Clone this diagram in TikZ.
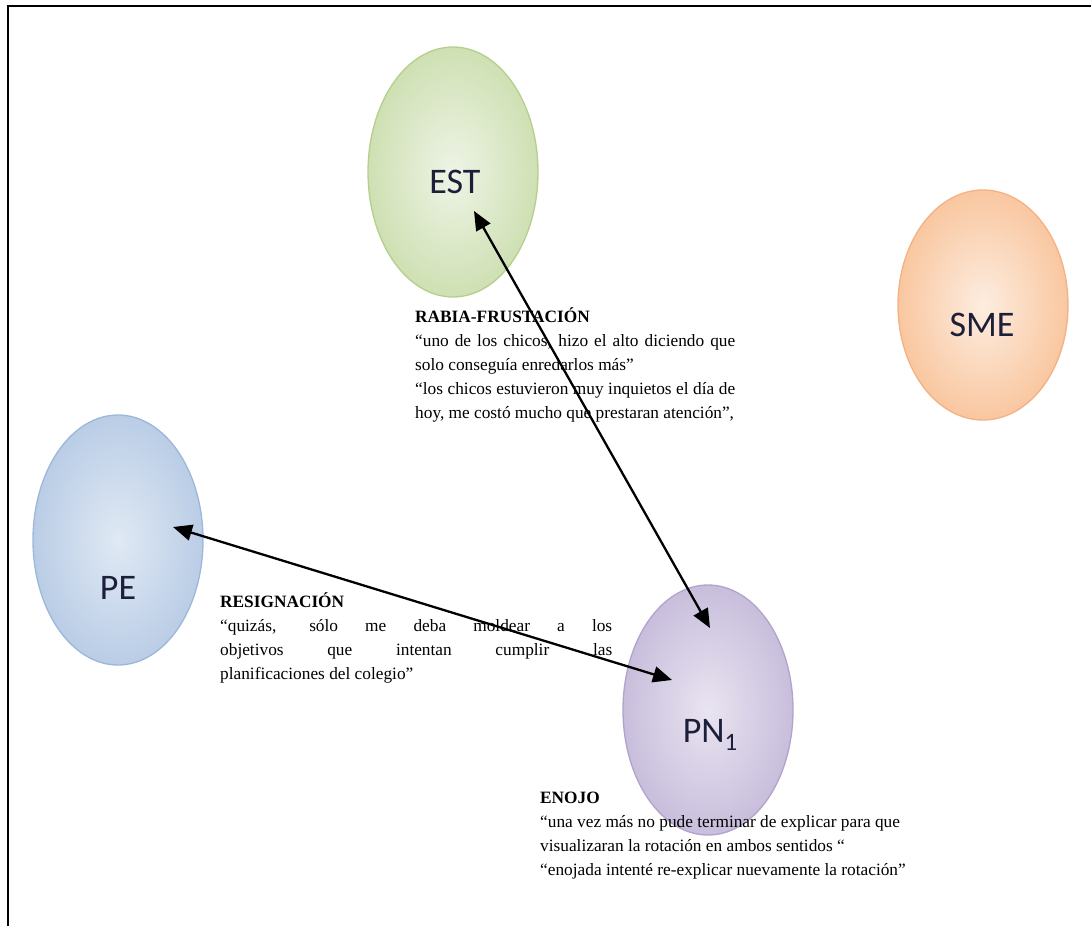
\documentclass[tikz,border=0pt]{standalone}
\usepackage{fontspec}
\setmainfont{Liberation Serif}
\newfontfamily\calib{Carlito}
\usetikzlibrary{shapes.geometric,arrows.meta}
\definecolor{gIn}{HTML}{EEF4E6}\definecolor{gOut}{HTML}{CFE0B3}\definecolor{gBd}{HTML}{B5CF8C}
\definecolor{oIn}{HTML}{FDEDE0}\definecolor{oOut}{HTML}{F9C7A0}\definecolor{oBd}{HTML}{F4B184}
\definecolor{bIn}{HTML}{E0E9F4}\definecolor{bOut}{HTML}{BACDE6}\definecolor{bBd}{HTML}{9BB8DA}
\definecolor{pIn}{HTML}{E9E4F1}\definecolor{pOut}{HTML}{C8BEDC}\definecolor{pBd}{HTML}{B1A3CB}
\definecolor{lbl}{HTML}{1B1F3A}
\begin{document}
\begin{tikzpicture}[x=1pt,y=-1pt,
  blob/.style={ellipse, minimum width=170pt, minimum height=250pt, inner sep=0pt, line width=1.3pt},
  blobtext/.style={inner sep=0pt, text=lbl, font=\calib\fontsize{36}{40}\selectfont},
  quote/.style={anchor=north west, inner sep=0pt, align=left, font=\fontsize{17.3}{24}\selectfont},
  link/.style={line width=2.3pt, {Triangle[length=19pt,width=16pt]}-{Triangle[length=19pt,width=16pt]}}]
\useasboundingbox (0,0) rectangle (1091,926);
\draw[line width=1.5pt] (8,926) -- (8,6) -- (1091,6);

\node[blob, draw=gBd, inner color=gIn, outer color=gOut] (est) at (453,172) {};
\node[blob, minimum height=230pt, draw=oBd, inner color=oIn, outer color=oOut] (sme) at (983,305) {};
\node[blob, draw=bBd, inner color=bIn, outer color=bOut] (pe) at (118,540) {};
\node[blob, draw=pBd, inner color=pIn, outer color=pOut] (pn) at (708,710) {};

\node[blobtext] (estt) at (455,182) {EST};
\node[blobtext] (smet) at (982,325) {SME};
\node[blobtext] (pet) at (118,588) {PE};
\node[blobtext] (pnt) at (710,735) {PN\raisebox{-0.22em}{\fontsize{25}{25}\selectfont 1}};

\node[quote] (rabia) at (415,304) {\rule{0pt}{18pt}\textbf{RABIA-FRUSTACIÓN}\\
\makebox[320pt][s]{“uno de los chicos, hizo el alto diciendo que}\\
solo conseguía enredarlos más”\\
\makebox[320pt][s]{“los chicos estuvieron muy inquietos el día de}\\
hoy, me costó mucho que prestaran atención”,};

\node[quote] (resig) at (220,589) {\rule{0pt}{18pt}\textbf{RESIGNACIÓN}\\
\makebox[392pt][s]{“quizás, sólo me deba moldear a los}\\
\makebox[392pt][s]{objetivos que intentan cumplir las}\\
planificaciones del colegio”};

\node[quote] (enojo) at (540,785) {\rule{0pt}{18pt}\textbf{ENOJO}\\
“una vez más no pude terminar de explicar para que\\
visualizaran la rotación en ambos sentidos “\\
“enojada intenté re-explicar nuevamente la rotación”};

\coordinate (estA) at (474,211);
\coordinate (pnA) at (710,628);
\coordinate (peA) at (173,527);
\coordinate (pnB) at (672,680);
\draw[link] (estA) -- (pnA);
\draw[link] (peA) -- (pnB);
\end{tikzpicture}
\end{document}
